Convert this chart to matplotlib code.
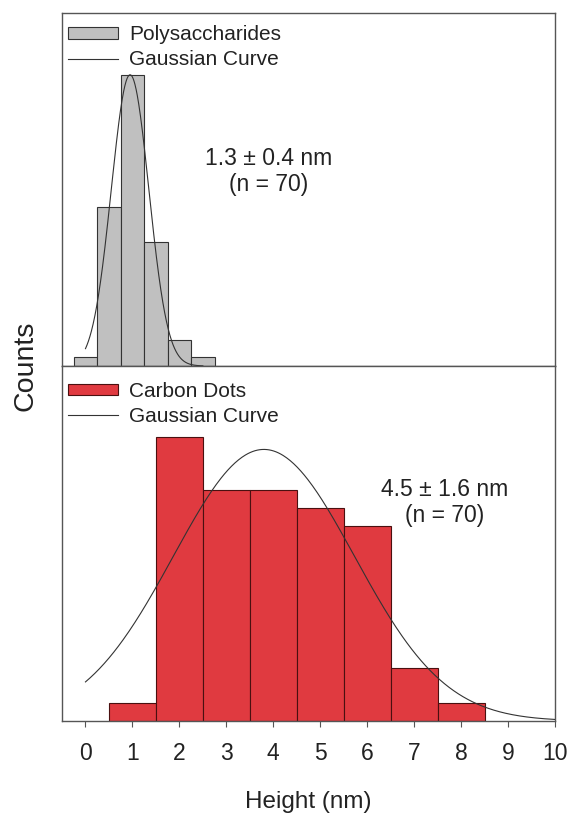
import numpy as np
import matplotlib
matplotlib.use("Agg")
import matplotlib.pyplot as plt

plt.rcParams['font.family'] = ['Liberation Sans', 'DejaVu Sans']

# ---- data ----
poly_centers = [0.0, 0.5, 1.0, 1.5, 2.0, 2.5]
poly_counts = [1, 18, 33, 14, 3, 1]
poly_fit = dict(amp=33.0, mu=0.95, sigma=0.40, xmin=0.0, xmax=2.5)

cd_centers = [1, 2, 3, 4, 5, 6, 7, 8]
cd_counts = [1, 16, 13, 13, 12, 11, 3, 1]
cd_fit = dict(amp=15.3, mu=3.8, sigma=1.93, xmin=0.0, xmax=10.0)

xticks = [0, 1, 2, 3, 4, 5, 6, 7, 8, 9, 10]
poly_label = "1.3 \u00b1 0.4 nm\n(n = 70)"
cd_label = "4.5 \u00b1 1.6 nm\n(n = 70)"


def gauss(p):
    x = np.linspace(p['xmin'], p['xmax'], 400)
    return x, p['amp'] * np.exp(-(x - p['mu']) ** 2 / (2 * p['sigma'] ** 2))


W, H = 572, 816
fig = plt.figure(figsize=(W / 100, H / 100), dpi=100)
left, right = 62 / W, 555 / W
ax_top = fig.add_axes([left, 1 - 366 / H, right - left, (366 - 13) / H])
ax_bot = fig.add_axes([left, 1 - 721 / H, right - left, (721 - 366) / H])

spine_col = '#555555'
text_col = '#222222'
leg_kw = dict(loc='upper left', frameon=False, fontsize=15, handlelength=2.4,
              handleheight=0.45, handletextpad=0.55, labelspacing=0.28,
              borderpad=0, borderaxespad=0, labelcolor=text_col)

# top panel
b1 = ax_top.bar(poly_centers, poly_counts, width=0.5, color='#c0c0c0',
                edgecolor='#333333', linewidth=0.8, zorder=2)
gx, gy = gauss(poly_fit)
l1, = ax_top.plot(gx, gy, color='#333333', lw=0.8, zorder=3)
ax_top.set_xlim(-0.5, 10)
ax_top.set_ylim(0, 40)
ax_top.set_xticks([])
ax_top.set_yticks([])
ax_top.text(3.9, 22.0, poly_label, ha='center', va='center', fontsize=16.5,
            color=text_col, linespacing=1.15)
ax_top.legend([b1, l1], ['Polysaccharides', 'Gaussian Curve'],
              bbox_to_anchor=(0.012, 0.965), **leg_kw)

# bottom panel
b2 = ax_bot.bar(cd_centers, cd_counts, width=1.0, color='#e03a40',
                edgecolor='#4a1010', linewidth=0.8, zorder=2)
gx, gy = gauss(cd_fit)
l2, = ax_bot.plot(gx, gy, color='#333333', lw=0.8, zorder=3)
ax_bot.set_xlim(-0.5, 10)
ax_bot.set_ylim(0, 20)
ax_bot.set_yticks([])
ax_bot.set_xticks(xticks)
ax_bot.set_xticklabels([str(t) for t in xticks])
ax_bot.tick_params(axis='x', direction='out', length=4, width=0.8,
                   colors=spine_col, labelcolor=text_col, labelsize=16.5, pad=11)
ax_bot.text(7.65, 12.3, cd_label, ha='center', va='center', fontsize=16.5,
            color=text_col, linespacing=1.15)
ax_bot.legend([b2, l2], ['Carbon Dots', 'Gaussian Curve'],
              bbox_to_anchor=(0.012, 0.955), **leg_kw)
ax_bot.set_xlabel('Height (nm)', fontsize=17.5, color=text_col, labelpad=19)

for ax in (ax_top, ax_bot):
    for s in ax.spines.values():
        s.set_color(spine_col)
        s.set_linewidth(1.0)

fig.text(25 / W, 1 - 366 / H, 'Counts', rotation=90, ha='center', va='center',
         fontsize=20.5, color=text_col)

fig.savefig('out.png', dpi=100, facecolor='white')
